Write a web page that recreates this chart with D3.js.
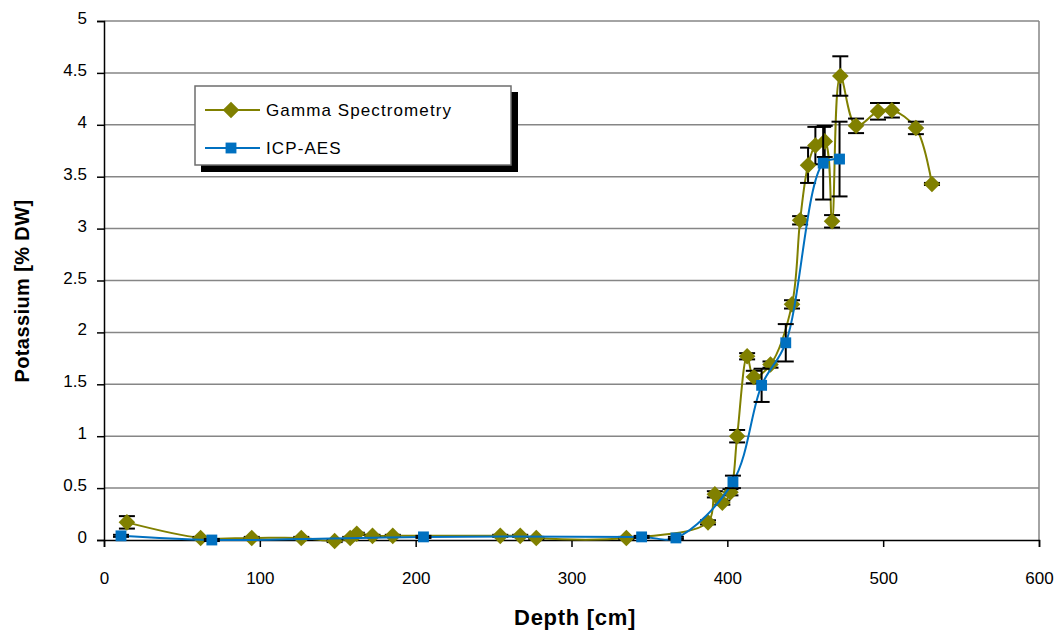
<!DOCTYPE html>
<html>
<head>
<meta charset="utf-8">
<script src="https://cdn.jsdelivr.net/npm/d3@7"></script>
<style>
  html, body { margin: 0; padding: 0; background: #fff; }
  svg { display: block; font-family: "Liberation Sans", Arial, sans-serif; }
</style>
</head>
<body>
<svg id="chart" width="1054" height="633"></svg>
<script>
// Gamma spectrometry profile: depth [cm], potassium [% DW], error (±)
const gammaDepth = [14.7, 62, 94.8, 126.6, 148, 158, 162.2, 172.3, 185.3, 254.3, 267.1, 277.4, 335.2,
  387.6, 392, 396.8, 402, 406.3, 412.7, 417, 427.7, 441.5, 446.7, 451.8, 456.5, 462.5, 467.2,
  472.5, 482.6, 496.7, 505.6, 521, 531.3];
const gammaK = [0.17, 0.02, 0.02, 0.02, -0.01, 0.02, 0.06, 0.04, 0.04, 0.04, 0.04, 0.02, 0.02,
  0.17, 0.44, 0.36, 0.46, 1.00, 1.77, 1.57, 1.69, 2.27, 3.08, 3.61, 3.80, 3.84, 3.07,
  4.47, 3.99, 4.13, 4.14, 3.97, 3.43];
const gammaErr = [0.06, 0.01, 0.01, 0.01, 0.01, 0.01, 0.01, 0.01, 0.01, 0.01, 0.01, 0.01, 0.01,
  0.02, 0.03, 0.02, 0.03, 0.06, 0.03, 0.06, 0.03, 0.04, 0.04, 0.17, 0.18, 0.15, 0.06,
  0.19, 0.07, 0.08, 0.07, 0.06, 0.01];

// ICP-AES profile
const icpDepth = [10.9, 69.2, 205, 345, 367, 403.6, 422, 437.5, 461.5, 472];
const icpK = [0.04, 0.00, 0.03, 0.03, 0.02, 0.56, 1.49, 1.90, 3.63, 3.67];
const icpErr = [0.01, 0.01, 0.01, 0.01, 0.01, 0.06, 0.16, 0.18, 0.35, 0.36];

const xTicks = [0, 100, 200, 300, 400, 500, 600];
const yTicks = [0, 0.5, 1, 1.5, 2, 2.5, 3, 3.5, 4, 4.5, 5];
const seriesNames = ["Gamma Spectrometry", "ICP-AES"];

const gammaColor = "#808000";
const icpColor = "#0070c0";

const svg = d3.select("#chart");
const x = d3.scaleLinear().domain([0, 600]).range([104, 1039]);
const y = d3.scaleLinear().domain([0, 5]).range([540, 21]);

// horizontal gridlines
svg.append("g").selectAll("line").data(yTicks.filter(d => d > 0)).join("line")
  .attr("x1", x(0)).attr("x2", x(600))
  .attr("y1", d => y(d)).attr("y2", d => y(d))
  .attr("stroke", "#868686").attr("stroke-width", 1.5);
// right plot border
svg.append("line").attr("x1", x(600)).attr("x2", x(600)).attr("y1", y(5)).attr("y2", y(0))
  .attr("stroke", "#868686").attr("stroke-width", 1.5);

// axes
const xAxis = svg.append("g").attr("transform", `translate(0,${y(0)})`)
  .call(d3.axisBottom(x).tickValues(xTicks).tickSize(7).tickPadding(25).tickFormat(d3.format("d")));
const yAxis = svg.append("g").attr("transform", `translate(${x(0)},0)`)
  .call(d3.axisLeft(y).tickValues(yTicks).tickSize(7).tickPadding(10).tickFormat(d => String(d)));
[xAxis, yAxis].forEach(g => {
  g.select(".domain").attr("stroke", "#000").attr("stroke-width", 1.5);
  g.selectAll(".tick line").attr("stroke", "#000").attr("stroke-width", 1.5);
  g.selectAll(".tick text").attr("fill", "#000").style("font-size", "17px")
    .style("font-family", "'Liberation Sans', Arial, sans-serif");
});
yAxis.selectAll(".tick text").attr("dy", "0.15em");

// axis titles
svg.append("text").attr("x", 575).attr("y", 625).attr("text-anchor", "middle")
  .style("font-size", "22px").style("font-weight", "bold").style("letter-spacing", "0.7px")
  .text("Depth [cm]");
svg.append("text").attr("transform", "translate(29,291) rotate(-90)").attr("text-anchor", "middle")
  .style("font-size", "20px").style("font-weight", "bold").style("letter-spacing", "0.4px")
  .text("Potassium [% DW]");

const line = d3.line().x(d => x(d[0])).y(d => y(d[1])).curve(d3.curveCatmullRom.alpha(0.5));
const diamond = d3.symbol().type(d3.symbolDiamond2).size(175);
const square = d3.symbol().type(d3.symbolSquare2).size(150);

function drawSeries(depth, vals, errs, color, sym) {
  const pts = depth.map((d, i) => [d, vals[i], errs[i]]);
  const g = svg.append("g");
  g.append("path").datum(pts).attr("d", line)
    .attr("fill", "none").attr("stroke", color).attr("stroke-width", 2);
  const eb = g.append("g").attr("stroke", "#000").attr("stroke-width", 2);
  pts.forEach(p => {
    const cx = x(p[0]);
    eb.append("line").attr("x1", cx).attr("x2", cx).attr("y1", y(p[1] - p[2])).attr("y2", y(p[1] + p[2]));
    [p[1] - p[2], p[1] + p[2]].forEach(v => {
      eb.append("line").attr("x1", cx - 8).attr("x2", cx + 8).attr("y1", y(v)).attr("y2", y(v));
    });
  });
  g.append("g").selectAll("path").data(pts).join("path")
    .attr("d", sym).attr("transform", p => `translate(${x(p[0])},${y(p[1])})`)
    .attr("fill", color);
}
drawSeries(gammaDepth, gammaK, gammaErr, gammaColor, diamond);
drawSeries(icpDepth, icpK, icpErr, icpColor, square);

// legend
const lg = svg.append("g");
lg.append("rect").attr("x", 201).attr("y", 92).attr("width", 317).attr("height", 80).attr("fill", "#000");
lg.append("rect").attr("x", 195).attr("y", 86).attr("width", 316).attr("height", 79)
  .attr("fill", "#fff").attr("stroke", "#6e6e6e").attr("stroke-width", 1.5);
const legendItems = [
  { name: seriesNames[0], color: gammaColor, sym: diamond, y: 110 },
  { name: seriesNames[1], color: icpColor, sym: square, y: 148 }
];
legendItems.forEach(it => {
  lg.append("line").attr("x1", 205).attr("x2", 260).attr("y1", it.y).attr("y2", it.y)
    .attr("stroke", it.color).attr("stroke-width", 2);
  lg.append("path").attr("d", it.sym).attr("transform", `translate(231,${it.y})`).attr("fill", it.color);
  lg.append("text").attr("x", 266).attr("y", it.y).attr("dy", "0.35em")
    .style("font-size", "17px").style("letter-spacing", "1.1px").text(it.name);
});
</script>
</body>
</html>
